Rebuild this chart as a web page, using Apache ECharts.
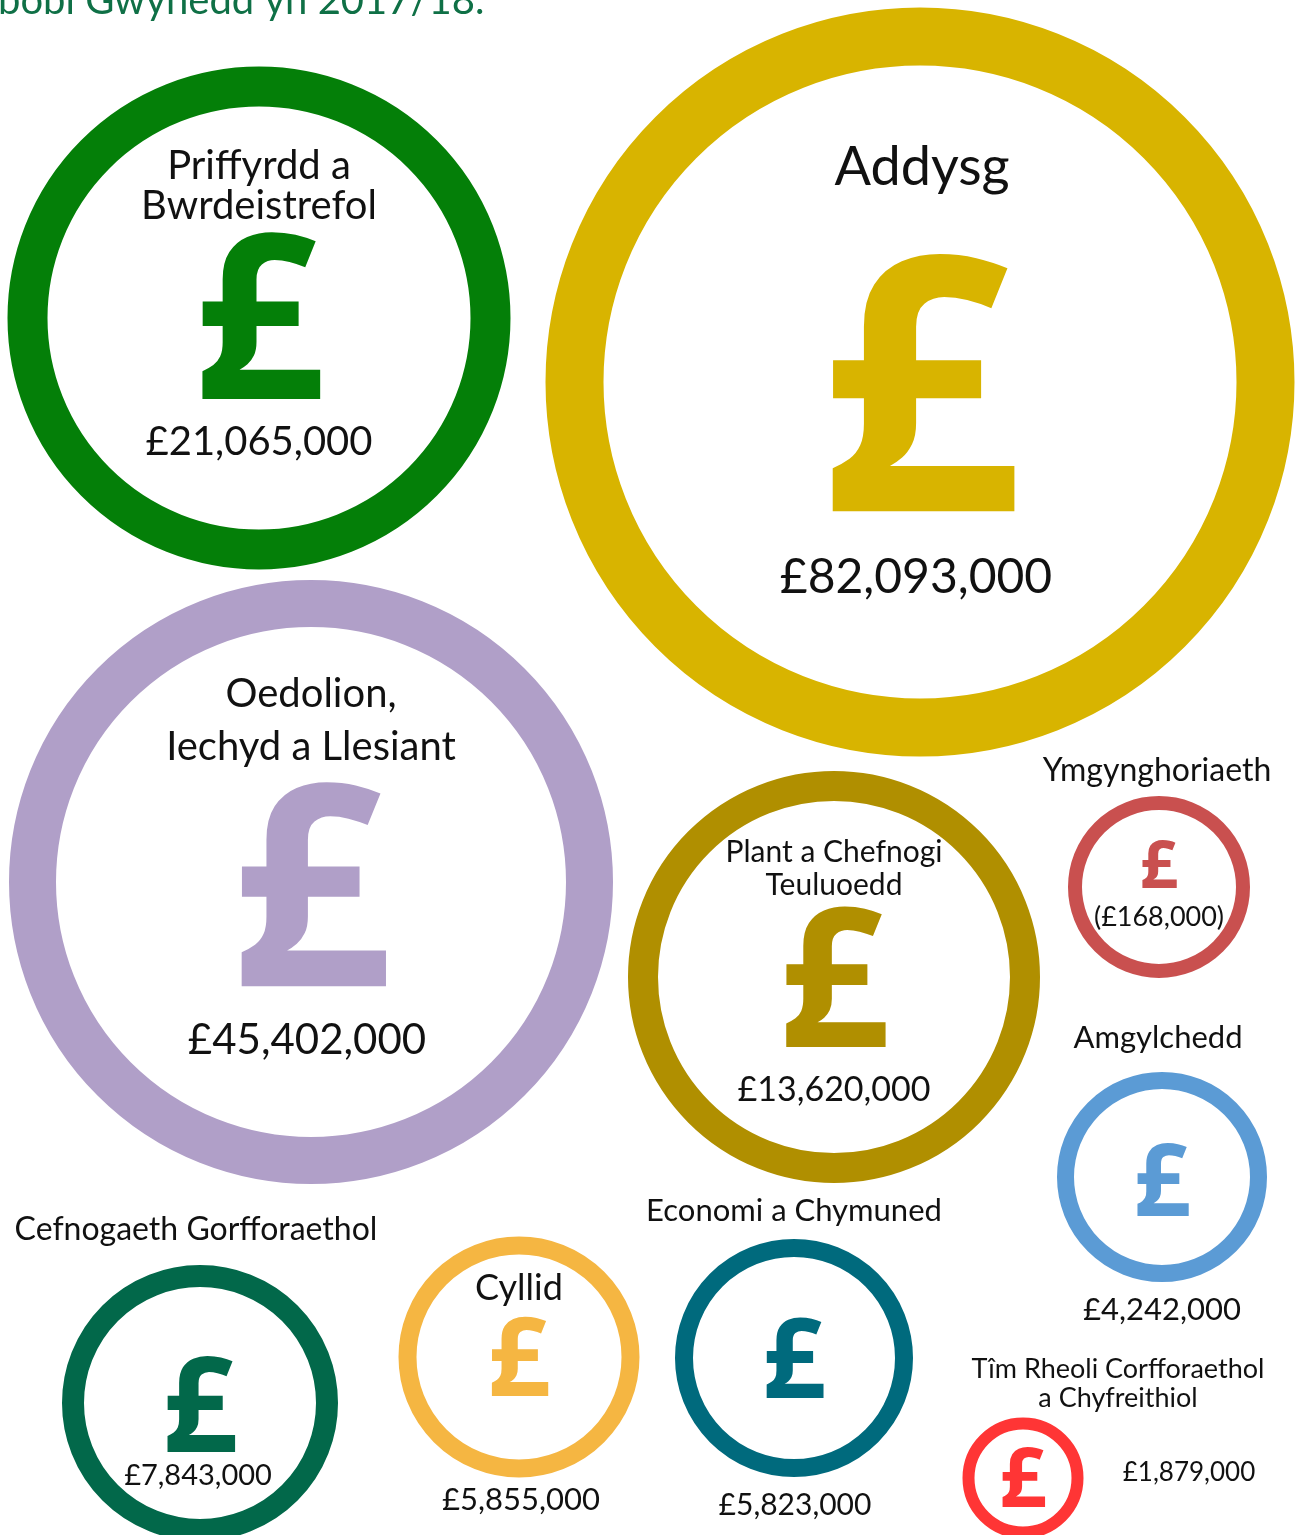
<!DOCTYPE html>
<html>
<head>
<meta charset="utf-8">
<script src="https://cdn.jsdelivr.net/npm/echarts@6/dist/echarts.min.js"></script>
<style>
  html, body { margin: 0; padding: 0; background: #fff; }
  #chart { width: 1299px; height: 1535px; }
</style>
</head>
<body>
<div id="chart"></div>
<script>
// Gwynedd budget by department, 2017/18
const departments = [
  'Priffyrdd a\nBwrdeistrefol',
  'Addysg',
  'Oedolion,\nIechyd a Llesiant',
  'Plant a Chefnogi\nTeuluoedd',
  'Ymgynghoriaeth',
  'Amgylchedd',
  'Cefnogaeth Gorfforaethol',
  'Cyllid',
  'Economi a Chymuned',
  'Tîm Rheoli Corfforaethol\na Chyfreithiol'
];
const amounts = [21065000, 82093000, 45402000, 13620000, -168000, 4242000, 7843000, 5855000, 5823000, 1879000];
const colours = ['#047f08', '#d8b400', '#b09fc8', '#b08f00', '#c9504f', '#5b9bd5', '#02684a', '#f5b642', '#006a7d', '#ff3535'];

// where each ring sits on the page (x, y in page pixels) and how it is drawn
const layout = [
  { cx: 259, cy: 318, d: 503, ring: 40, name: [0, -132, 40, 40], pound: [0, 15, 230], amount: [0, 124, 40] },
  { cx: 920, cy: 382, d: 749, ring: 58, name: [2, -214, 54, 60], pound: [0, 28, 355], amount: [-4, 196, 48] },
  { cx: 311, cy: 882, d: 604, ring: 47, name: [0, -161, 40, 53], pound: [0, 24, 282], amount: [-4, 158, 42] },
  { cx: 834, cy: 977, d: 412, ring: 30, name: [0, -108, 30, 33], pound: [0, 15, 194], amount: [0, 113, 34] },
  { cx: 1159, cy: 887, d: 182, ring: 14, name: [-2, -116, 32, 32], pound: [0, -18, 67], amount: [0, 30, 27] },
  { cx: 1162, cy: 1177, d: 210, ring: 17, name: [-4, -139, 31, 32], pound: [0, 11, 100], amount: [0, 133, 31] },
  { cx: 200, cy: 1403, d: 276, ring: 22, name: [-4, -173, 32, 32], pound: [0, 11, 132], amount: [-2, 73, 29] },
  { cx: 519, cy: 1357, d: 241, ring: 18, name: [0, -69, 36, 36], pound: [0, 8, 110], amount: [2, 143, 31] },
  { cx: 794, cy: 1358, d: 238, ring: 18, name: [0, -147, 31, 32], pound: [0, 8, 111], amount: [1, 147, 30] },
  { cx: 1023, cy: 1478, d: 121, ring: 12, name: [95, -94, 27, 29], pound: [0, 5, 83], amount: [166, -5, 26] }
];

const W = 1299, H = 1535;
const FONT = 'Lato';
const POUND_FONT = 'Open Sans';

function money(v) {
  const s = '£' + Math.abs(v).toLocaleString('en-GB');
  return v < 0 ? '(' + s + ')' : s;
}

const ringData = departments.map((n, i) => ({
  name: n,
  value: [layout[i].cx, layout[i].cy, amounts[i]],
  symbolSize: layout[i].d - layout[i].ring,
  itemStyle: { color: 'transparent', borderColor: colours[i], borderWidth: layout[i].ring, opacity: 1 }
}));

const nameData = departments.map((n, i) => ({
  name: n,
  value: [layout[i].cx, layout[i].cy],
  label: {
    offset: [layout[i].name[0], layout[i].name[1]],
    fontSize: layout[i].name[2],
    lineHeight: layout[i].name[3]
  }
}));

const poundData = departments.map((n, i) => ({
  name: n,
  value: [layout[i].cx, layout[i].cy],
  label: {
    offset: [layout[i].pound[0], layout[i].pound[1]],
    fontSize: layout[i].pound[2],
    lineHeight: layout[i].pound[2],
    color: colours[i]
  }
}));

const amountData = amounts.map((v, i) => ({
  name: money(v),
  value: [layout[i].cx, layout[i].cy, v],
  label: {
    offset: [layout[i].amount[0], layout[i].amount[1]],
    fontSize: layout[i].amount[2],
    lineHeight: layout[i].amount[2]
  }
}));

function textSeries(data, extra) {
  return {
    type: 'scatter',
    symbolSize: 0,
    silent: true,
    itemStyle: { opacity: 1 },
    data: data,
    label: Object.assign({
      show: true,
      position: 'inside',
      formatter: p => p.name,
      fontFamily: FONT,
      color: '#111',
      align: 'center',
      verticalAlign: 'middle'
    }, extra || {})
  };
}

const chart = echarts.init(document.getElementById('chart'));
chart.setOption({
  animation: false,
  backgroundColor: '#fff',
  title: {
    text: 'bobl Gwynedd yn 2017/18.',
    left: -2,
    top: -19,
    padding: 0,
    textStyle: { fontFamily: FONT, fontWeight: 'normal', fontSize: 40, color: '#0f7046' }
  },
  grid: { left: 0, right: 0, top: 0, bottom: 0 },
  xAxis: { type: 'value', min: 0, max: W, show: false },
  yAxis: { type: 'value', min: 0, max: H, inverse: true, show: false },
  series: [
    { type: 'scatter', symbol: 'circle', silent: true, itemStyle: { opacity: 1 }, data: ringData },
    textSeries(poundData, { formatter: '£', fontFamily: POUND_FONT, fontWeight: 'bold' }),
    textSeries(nameData),
    textSeries(amountData)
  ]
});
</script>
</body>
</html>
